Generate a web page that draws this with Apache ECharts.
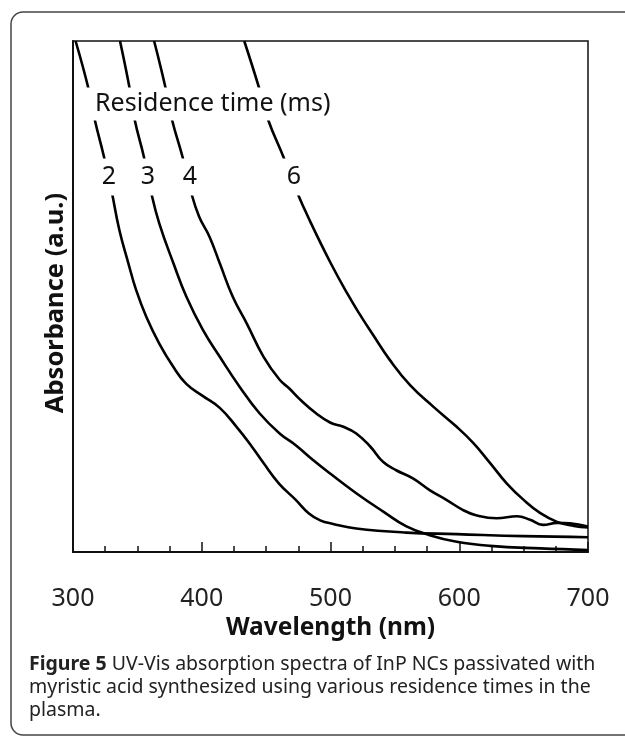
<!DOCTYPE html>
<html>
<head>
<meta charset="utf-8">
<script src="https://cdn.jsdelivr.net/npm/echarts@6/dist/echarts.min.js"></script>
<style>
  html, body { margin: 0; padding: 0; background: #fff; }
  #chart { width: 625px; height: 736px; }
</style>
</head>
<body>
<div id="chart"></div>
<script>
// wavelength (nm), absorbance (a.u., 0-100 of the frame)
var curve2 = [[302,100],[312,90.7],[317,84.5],[324,77.4],[330,70.6],[336,63],[343,56.5],[349,51.3],[357,46],[367,40.8],[378,36.2],[388,32.9],[401,30.5],[414,28.2],[427,24.5],[437,21.3],[448,17.4],[460,13.4],[473,10.2],[483,7.6],[492,6.2],[502,5.5],[520,4.6],[559,3.8],[598,3.5],[650,3.1],[700,2.9]];
var curve3 = [[336.5,100],[344,90.7],[348,84.5],[355,77.4],[360.5,70.6],[367,64.3],[378,56.5],[388,50],[401,43.4],[414,38.2],[429.5,32.3],[445,27.1],[460.5,23.2],[473,20.9],[485,18.3],[500,15.3],[520,11.5],[541,7.9],[559,5.0],[577,3.3],[598,2.0],[624,1.2],[663,0.7],[700,0.4]];
var curve4 = [[363,100],[372,90.7],[377,84.5],[385,77.4],[391.5,70.6],[398,65.6],[406,61.7],[414,56.5],[424,50],[435,44.7],[448,38.2],[460.5,33.7],[468,32],[477,29.7],[489,27.1],[500,25.3],[510,24.5],[520,23.2],[531,20.6],[541,17.6],[551,16],[564,14.4],[577,12.1],[590,10.2],[603,8.2],[613,7.2],[629,6.6],[645,7.0],[655,6.3],[665,5.3],[676,5.7],[686,5.6],[700,5.0]];
var curve6 = [[433,100],[444.7,90.7],[451.7,84.5],[463.3,77.4],[473.7,70.6],[484,64.8],[500,56.6],[513,50.6],[523,46.4],[533,42.5],[546,37.6],[562,32.6],[580,28.4],[598,24.5],[611,21.3],[624,17.4],[637,13.4],[650,10.2],[663,7.6],[676,5.9],[689,5.1],[700,4.8]];

var seriesNames = ["2", "3", "4", "6"];
var seriesData = [curve2, curve3, curve4, curve6];
var xTicks = [300, 400, 500, 600, 700];

var chart = echarts.init(document.getElementById("chart"));

var series = seriesData.map(function (d, i) {
  return {
    name: seriesNames[i],
    type: "line",
    data: d,
    showSymbol: false,
    smooth: 0.45,
    clip: true,
    lineStyle: { color: "#000", width: 2.6 },
    z: 2
  };
});

// curve labels, white boxes break the lines like in the figure
var labelX = [109, 148, 190, 294];
var numberLabels = seriesNames.map(function (n, i) {
  return {
    type: "text", z: 100,
    style: {
      text: n, x: labelX[i], y: 177,
      fontSize: 25, fontFamily: "Noto Sans", fill: "#111",
      align: "center", verticalAlign: "middle",
      backgroundColor: "#fff", padding: [6, 5]
    }
  };
});

var option = {
  animation: false,
  backgroundColor: "#fff",
  textStyle: { fontFamily: "Noto Sans" },
  grid: {
    left: 73, right: 37, top: 41, bottom: 184,
    show: true, borderColor: "#111", borderWidth: 1.5
  },
  xAxis: {
    type: "value",
    min: xTicks[0],
    max: xTicks[xTicks.length - 1],
    interval: 100,
    name: "Wavelength (nm)",
    nameLocation: "middle",
    nameGap: 60,
    nameTextStyle: { fontSize: 24.5, fontWeight: "bold", color: "#111", fontFamily: "Noto Sans" },
    axisLine: { lineStyle: { color: "#111", width: 2 } },
    axisTick: { inside: true, length: 10, lineStyle: { color: "#111", width: 1.5 } },
    minorTick: { show: true, splitNumber: 4, length: 6, lineStyle: { color: "#111", width: 1.5 } },
    axisLabel: { fontSize: 25, color: "#222", margin: 34, fontFamily: "Noto Sans" },
    splitLine: { show: false }
  },
  yAxis: {
    type: "value",
    min: 0,
    max: 100,
    name: "Absorbance (a.u.)",
    nameLocation: "middle",
    nameGap: 4,
    nameTextStyle: {
      fontSize: 25.5, fontWeight: "bold", color: "#111", fontFamily: "Noto Sans",
      padding: [0, 13, 0, 0]
    },
    axisLine: { show: true, lineStyle: { color: "#111", width: 2 } },
    axisTick: { show: false },
    axisLabel: { show: false },
    splitLine: { show: false }
  },
  series: series,
  graphic: [
    {
      type: "rect",
      z: 0,
      shape: { x: 11, y: 12, width: 700, height: 723, r: 12 },
      style: { fill: "none", stroke: "#444", lineWidth: 1.5 }
    },
    {
      type: "text", z: 100,
      style: {
        text: "Residence time (ms)", x: 87, y: 104,
        fontSize: 25, fontFamily: "Noto Sans", fill: "#111",
        align: "left", verticalAlign: "middle",
        backgroundColor: "#fff", padding: [4, 8, 4, 8]
      }
    }
  ].concat(numberLabels).concat([
    {
      type: "text", z: 100,
      style: {
        text: "{b|Figure 5} UV-Vis absorption spectra of InP NCs passivated with\nmyristic acid synthesized using various residence times in the\nplasma.",
        x: 29, y: 653,
        fontSize: 19.5, fontFamily: "Noto Sans", fill: "#222", lineHeight: 23,
        rich: { b: { fontWeight: "bold", fontSize: 19.5, fontFamily: "Noto Sans", fill: "#222" } }
      }
    }
  ])
};

chart.setOption(option);
</script>
</body>
</html>
